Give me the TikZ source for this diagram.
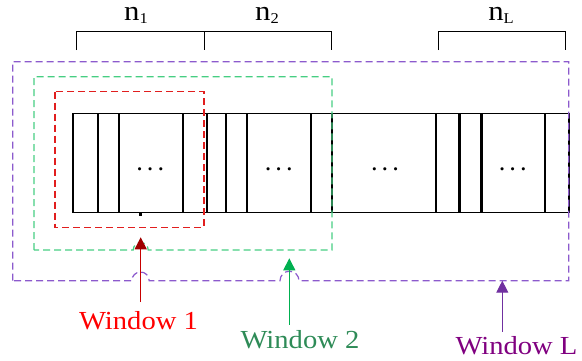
\documentclass[tikz,border=0pt]{standalone}
\usepackage{fontspec}
\setmainfont{Liberation Serif}
\usetikzlibrary{arrows.meta}
\definecolor{boxpurple}{RGB}{140,90,205}
\definecolor{boxgreen}{RGB}{70,206,130}
\definecolor{boxred}{RGB}{225,30,30}
\definecolor{arrred}{RGB}{200,0,0}
\definecolor{arrgreen}{RGB}{0,176,80}
\definecolor{arrpurple}{RGB}{112,48,160}
\definecolor{txtred}{RGB}{255,0,0}
\definecolor{txtgreen}{RGB}{46,139,87}
\definecolor{txtpurple}{RGB}{128,0,128}
\tikzset{
	win/.style={dash pattern=on 7pt off 4pt, line width=1.2pt},
	cell/.style={line width=2.4pt},
	pointer/.style={-{Triangle[width=12pt,length=12pt]}, line width=1.2pt},
	winlabel/.style={font=\fontsize{26}{26}\selectfont, inner sep=0pt},
	seglabel/.style={font=\fontsize{28}{28}\selectfont, inner sep=0pt},
	dotlabel/.style={font=\fontsize{22}{22}\selectfont\boldmath, inner sep=0pt},
}
\begin{document}
\begin{tikzpicture}[x=1pt,y=-1pt]
		\useasboundingbox (0,0) rectangle (582,360);
		% segment brackets
		\draw[line width=0.9pt] (76.7,50) -- (76.7,31.7) -- (204,31.7) -- (204,50);
		\draw[line width=0.9pt] (204,31.7) -- (331.7,31.7) -- (331.7,50);
		\draw[line width=0.9pt] (438.3,50) -- (438.3,31.7) -- (565.7,31.7) -- (565.7,50);
		\node[seglabel] (n1) at (136,15) {\scalebox{1.1}[1]{n\raisebox{-3pt}{\fontsize{15}{15}\selectfont 1}}};
		\node[seglabel] (n2) at (267,15) {\scalebox{1.1}[1]{n\raisebox{-3pt}{\fontsize{15}{15}\selectfont 2}}};
		\node[seglabel] (nL) at (501,15) {\scalebox{1.1}[1]{n\raisebox{-3pt}{\fontsize{15}{15}\selectfont L}}};
		% the sequence
		\draw[line width=1.4pt] (73,113.3) rectangle (568.7,212.5);
		\draw[cell] (73,113.3) -- (73,212.5) (97.7,113.3) -- (97.7,212.5)
			(119,113.3) -- (119,212.5) (182.7,113.3) -- (182.7,212.5)
			(206.7,113.3) -- (206.7,212.5) (225.7,113.3) -- (225.7,212.5)
			(246.7,113.3) -- (246.7,212.5) (310.7,113.3) -- (310.7,212.5)
			(332,113.3) -- (332,212.5) (436,113.3) -- (436,212.5)
			(459.3,113.3) -- (459.3,212.5) (481.3,113.3) -- (481.3,212.5)
			(545,113.3) -- (545,212.5) (568.7,113.3) -- (568.7,212.5);
		\fill (139.4,212.5) rectangle (142,215.5);
		\node[dotlabel] (d1) at (150.3,170) {$\cdots$};
		\node[dotlabel] (d2) at (278.8,170) {$\cdots$};
		\node[dotlabel] (d3) at (385,170) {$\cdots$};
		\node[dotlabel] (d4) at (512.8,170) {$\cdots$};
		% windows
		\draw[win, boxred] (55,91.7) rectangle (204,227.3);
		\draw[win, boxgreen] (34,250) -- (34,76.7) -- (332,76.7) -- (332,250)
			-- (148.2,250) arc[start angle=0, end angle=180, radius=7.5pt] -- cycle;
		\draw[win, boxpurple] (12.7,280.7) -- (12.7,61.7) -- (568.7,61.7) -- (568.7,280.7)
			-- (299,280.7) arc[start angle=0, end angle=180, radius=9.5pt]
			-- (149.2,280.7) arc[start angle=0, end angle=180, radius=8.7pt] -- cycle;
		% labels
		\coordinate (tip1) at (140.7,237.3);
		\coordinate (tip2) at (289.3,258.3);
		\coordinate (tipL) at (502.3,280.7);
		\node[winlabel, text=txtred] (win1) at (138.5,320.5) {\scalebox{1.1}[1]{Window 1}};
		\node[winlabel, text=txtgreen] (win2) at (300,339.5) {\scalebox{1.1}[1]{Window 2}};
		\node[winlabel, text=txtpurple] (winL) at (516.5,346) {\scalebox{1.1}[1]{Window L}};
		\draw[pointer, arrred, -{Triangle[width=12pt,length=12pt,color=arrred!80!black]}] (win1.north -| tip1) ++(0,-9) -- (tip1);
		\draw[pointer, arrgreen] (win2.north -| tip2) ++(0,-5.5) -- (tip2);
		\draw[pointer, arrpurple] (winL.north -| tipL) ++(0,-5) -- (tipL);
	\end{tikzpicture}
\end{document}
